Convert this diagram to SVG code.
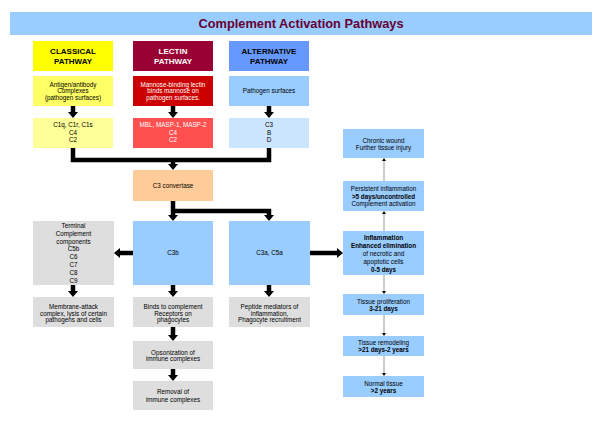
<svg xmlns="http://www.w3.org/2000/svg" width="600" height="424" viewBox="0 0 600 424">
<defs>
<style>
text{font-family:"Liberation Sans",Arial,sans-serif;text-anchor:middle;fill:#000;}
.t{font-size:6.3px;}
.b{font-weight:bold;}
.h{font-size:8px;font-weight:bold;}
.w{fill:#fff;}
.thick{stroke:#000;stroke-width:4.5;fill:none;}
.thin{stroke:#999;stroke-width:1;fill:none;}
.gray{fill:#DEDEDE;}
.blue{fill:#99CCFF;}
</style>
<marker id="ah" markerUnits="userSpaceOnUse" markerWidth="11" markerHeight="11" refX="0" refY="5.5" orient="auto"><path d="M0,0.5 L6,5.5 L0,10.5 z" fill="#000"/></marker>
<marker id="sh" markerUnits="userSpaceOnUse" markerWidth="5" markerHeight="5" refX="0" refY="2.5" orient="auto"><path d="M0,0.5 L3,2.5 L0,4.5 z" fill="#000"/></marker>
</defs>
<rect width="600" height="424" fill="#fff"/>
<g id="title">
<rect x="10" y="12" width="582" height="23" fill="#99CCFF"/>
<text x="301" y="28" style="font-size:12.8px;font-weight:bold;fill:#660033">Complement Activation Pathways</text>
</g>
<g id="connectors">
<line class="thick" x1="73" y1="106" x2="73" y2="112" marker-end="url(#ah)"/>
<line class="thick" x1="173" y1="106" x2="173" y2="112" marker-end="url(#ah)"/>
<line class="thick" x1="269" y1="106" x2="269" y2="112" marker-end="url(#ah)"/>
<path class="thick" d="M73,148 V160 H269 V148"/>
<line class="thick" x1="173" y1="160" x2="173" y2="164" marker-end="url(#ah)"/>
<path class="thick" d="M173,201 V215" marker-end="url(#ah)"/>
<path class="thick" d="M173,211 H269 V215" marker-end="url(#ah)"/>
<line class="thick" x1="133" y1="253" x2="120" y2="253" marker-end="url(#ah)"/>
<line class="thick" x1="310" y1="253" x2="337" y2="253" marker-end="url(#ah)"/>
<line class="thick" x1="73" y1="285" x2="73" y2="291" marker-end="url(#ah)"/>
<line class="thick" x1="173" y1="285" x2="173" y2="291" marker-end="url(#ah)"/>
<line class="thick" x1="269" y1="285" x2="269" y2="291" marker-end="url(#ah)"/>
<line class="thick" x1="173" y1="327" x2="173" y2="335" marker-end="url(#ah)"/>
<line class="thick" x1="173" y1="369" x2="173" y2="375" marker-end="url(#ah)"/>
<line class="thin" x1="384" y1="231" x2="384" y2="214" marker-end="url(#sh)"/>
<line class="thin" x1="384" y1="181" x2="384" y2="161" marker-end="url(#sh)"/>
<line class="thin" x1="384" y1="275" x2="384" y2="291" marker-end="url(#sh)"/>
<line class="thin" x1="384" y1="315" x2="384" y2="333" marker-end="url(#sh)"/>
<line class="thin" x1="384" y1="356" x2="384" y2="373" marker-end="url(#sh)"/>
</g>
<g id="classical-header"><rect x="33" y="41" width="80" height="30" fill="#FFFF00"/><text class="h" x="73" y="54">CLASSICAL</text><text class="h" x="73" y="64">PATHWAY</text></g>
<g id="lectin-header"><rect x="133" y="41" width="80" height="30" fill="#990033"/><text class="h w" x="173" y="54">LECTIN</text><text class="h w" x="173" y="64">PATHWAY</text></g>
<g id="alternative-header"><rect x="229" y="41" width="80" height="30" fill="#6699FF"/><text class="h" x="269" y="54">ALTERNATIVE</text><text class="h" x="269" y="64">PATHWAY</text></g>
<g id="classical-trigger"><rect x="33" y="76" width="80" height="30" fill="#FFFF66"/><text class="t" x="73" y="86.5">Antigen/antibody</text><text class="t" x="73" y="93.2">Complexes</text><text class="t" x="73" y="99.9">(pathogen surfaces)</text></g>
<g id="lectin-trigger"><rect x="133" y="76" width="80" height="30" fill="#CC0000"/><text class="t w" x="173" y="86.5">Mannose-binding lectin</text><text class="t w" x="173" y="93.2">binds mannose on</text><text class="t w" x="173" y="99.9">pathogen surfaces.</text></g>
<g id="alternative-trigger"><rect x="229" y="76" width="80" height="30" fill="#99CCFF"/><text class="t" x="269" y="93.2">Pathogen surfaces</text></g>
<g id="classical-components"><rect x="33" y="118" width="80" height="30" fill="#FFFF99"/><text class="t" x="73" y="127.2">C1q, C1r, C1s</text><text class="t" x="73" y="135">C4</text><text class="t" x="73" y="142.3">C2</text></g>
<g id="lectin-components"><rect x="133" y="118" width="80" height="30" fill="#FF5050"/><text class="t w" x="173" y="127.2">MBL, MASP-1, MASP-2</text><text class="t w" x="173" y="135">C4</text><text class="t w" x="173" y="142.3">C2</text></g>
<g id="alternative-components"><rect x="229" y="118" width="80" height="30" fill="#CCE5FF"/><text class="t" x="269" y="127.2">C3</text><text class="t" x="269" y="135">B</text><text class="t" x="269" y="142.3">D</text></g>
<g id="c3-convertase"><rect x="133" y="170" width="80" height="31" fill="#FFCC99"/><text class="t" x="173" y="187.7">C3 convertase</text></g>
<g id="terminal"><rect class="gray" x="33" y="221" width="81" height="64"/>
<text class="t" x="73.5" y="228">Terminal</text><text class="t" x="73.5" y="235.8">Complement</text><text class="t" x="73.5" y="243.6">components</text><text class="t" x="73.5" y="251.4">C5b</text><text class="t" x="73.5" y="259.2">C6</text><text class="t" x="73.5" y="267">C7</text><text class="t" x="73.5" y="274.8">C8</text><text class="t" x="73.5" y="282.6">C9</text></g>
<g id="c3b"><rect class="blue" x="133" y="221" width="80" height="64"/><text class="t" x="173" y="255">C3b</text></g>
<g id="c3a-c5a"><rect class="blue" x="229" y="221" width="81" height="64"/><text class="t" x="269.5" y="255">C3a, C5a</text></g>
<g id="mac"><rect class="gray" x="33" y="297" width="81" height="30"/><text class="t" x="73.5" y="309">Membrane-attack</text><text class="t" x="73.5" y="315.7">complex, lysis of certain</text><text class="t" x="73.5" y="322.4">pathogens and cells</text></g>
<g id="binds-receptors"><rect class="gray" x="133" y="297" width="80" height="30"/><text class="t" x="173" y="309">Binds to complement</text><text class="t" x="173" y="315.7">Receptors on</text><text class="t" x="173" y="322.4">phagocytes</text></g>
<g id="peptide-mediators"><rect class="gray" x="229" y="297" width="81" height="30"/><text class="t" x="269.5" y="309">Peptide mediators of</text><text class="t" x="269.5" y="315.7">inflammation,</text><text class="t" x="269.5" y="322.4">Phagocyte recruitment</text></g>
<g id="opsonization"><rect class="gray" x="133" y="341" width="80" height="28"/><text class="t" x="173" y="354.5">Opsonization of</text><text class="t" x="173" y="361">immune complexes</text></g>
<g id="removal"><rect class="gray" x="133" y="381" width="80" height="29"/><text class="t" x="173" y="394">Removal of</text><text class="t" x="173" y="402">immune complexes</text></g>
<g id="chronic-wound"><rect class="blue" x="343" y="129" width="81" height="29"/><text class="t" x="383.5" y="142.9">Chronic wound</text><text class="t" x="383.5" y="149.9">Further tissue injury</text></g>
<g id="persistent"><rect class="blue" x="343" y="181" width="81" height="30"/><text class="t" x="383.5" y="191.2">Persistent inflammation</text><text class="t b" x="383.5" y="198.9">&gt;5 days/uncontrolled</text><text class="t" x="383.5" y="206.2">Complement activation</text></g>
<g id="inflammation"><rect class="blue" x="343" y="231" width="81" height="44"/><text class="t b" x="383.5" y="240.2">Inflammation</text><text class="t b" x="383.5" y="247.7">Enhanced elimination</text><text class="t" x="383.5" y="255.5">of necrotic and</text><text class="t" x="383.5" y="263.5">apoptotic cells</text><text class="t b" x="383.5" y="271.7">0-5 days</text></g>
<g id="proliferation"><rect class="blue" x="343" y="294" width="81" height="21"/><text class="t" x="383.5" y="303.9">Tissue proliferation</text><text class="t b" x="383.5" y="311.2">3-21 days</text></g>
<g id="remodeling"><rect class="blue" x="343" y="336" width="81" height="20"/><text class="t" x="383.5" y="344.5">Tissue remodeling</text><text class="t b" x="383.5" y="352.2">&gt;21 days-2 years</text></g>
<g id="normal-tissue"><rect class="blue" x="343" y="376" width="81" height="21"/><text class="t" x="383.5" y="385.5">Normal tissue</text><text class="t b" x="383.5" y="393.2">&gt;2 years</text></g>
</svg>
